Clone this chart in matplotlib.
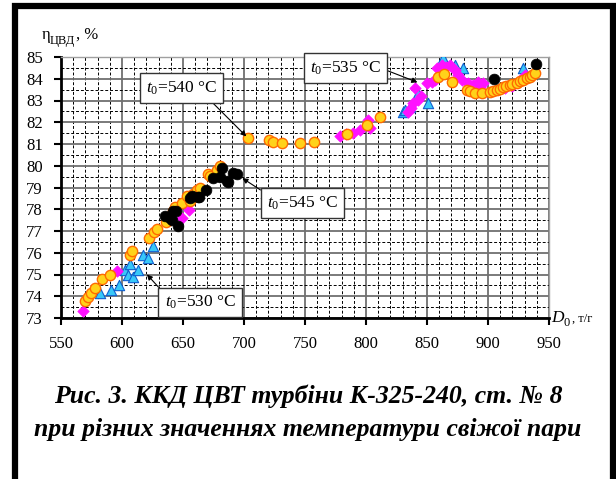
import matplotlib
matplotlib.use("Agg")
import matplotlib.pyplot as plt
from matplotlib.patches import Rectangle
from matplotlib.ticker import MultipleLocator

plt.rcParams['font.family'] = ['Liberation Serif', 'DejaVu Serif']
plt.rcParams['mathtext.fontset'] = 'custom'
plt.rcParams['mathtext.rm'] = 'Liberation Serif'
plt.rcParams['mathtext.it'] = 'Liberation Serif:italic'

# t0 = 540 °C (жовті кружки)
d540 = [569.5, 572.0, 574.5, 577.9, 584.0, 590.2, 606.5, 608.0, 622.0, 626.3,
        628.4, 635.8, 642.0, 643.4, 648.9, 653.0, 656.0, 658.4, 661.7, 664.0,
        670.8, 672.1, 677.5, 680.3, 703.5, 720.8, 724.0, 731.1, 745.9, 757.4,
        784.2, 800.6, 811.5, 859.3, 864.2, 870.2, 882.5, 885.0, 889.3, 895.4,
        901.6, 904.0, 907.0, 910.0, 912.5, 915.0, 918.0, 920.0, 923.5, 926.0,
        929.0, 932.0, 934.4, 936.0, 938.5]
n540 = [73.78, 73.98, 74.13, 74.36, 74.78, 75.0, 75.9, 76.1, 76.7, 76.97,
        77.1, 77.4, 77.9, 78.1, 78.3, 78.6, 78.4, 78.7, 78.9, 78.96,
        79.6, 79.55, 79.8, 80.0, 81.26, 81.2, 81.1, 81.03, 81.06, 81.1,
        81.46, 81.87, 82.26, 84.1, 84.22, 83.87, 83.48, 83.45, 83.36, 83.34,
        83.4, 83.44, 83.48, 83.54, 83.6, 83.65, 83.7, 83.76, 83.82, 83.88,
        83.94, 84.02, 84.1, 84.16, 84.25]

# t0 = 545 °C (чорні кружки)
d545 = [635.2, 639.3, 640.7, 642.0, 644.3, 646.2, 655.7, 657.1, 662.5, 663.4,
        668.5, 674.9, 680.3, 681.7, 685.8, 687.1, 691.2, 693.9, 904.8, 939.3]
n545 = [77.7, 77.6, 77.5, 77.9, 77.9, 77.25, 78.5, 78.6, 78.58, 78.55,
        78.9, 79.42, 79.5, 79.88, 79.3, 79.27, 79.66, 79.6, 84.0, 84.68]

# t0 = 535 °C (рожеві ромби)
d535 = [568.3, 595.6, 648.9, 655.2, 778.7, 784.0, 789.6, 795.1, 801.9, 803.3,
        834.7, 836.5, 838.8, 840.2, 842.9, 845.0, 849.7, 853.9, 856.6, 858.0,
        862.0, 865.5, 868.9, 873.0, 875.7, 878.4, 883.9, 888.0, 892.1, 893.4,
        896.2, 913.9, 919.5, 925.0, 930.3]
n535 = [73.3, 75.17, 77.6, 77.97, 81.36, 81.45, 81.5, 81.64, 82.1, 81.72,
        82.49, 82.65, 82.87, 83.56, 83.02, 83.2, 83.79, 83.87, 83.94, 84.48,
        84.63, 84.55, 84.63, 84.4, 84.17, 83.94, 83.79, 83.7, 83.87, 83.6,
        83.79, 83.56, 83.65, 83.9, 84.17]

# t0 = 530 °C (блакитні трикутники)
d530 = [582.0, 590.7, 597.8, 602.5, 605.2, 606.6, 609.3, 613.4, 617.5, 621.6,
        625.1, 830.6, 832.0, 836.0, 842.9, 851.1, 863.4, 873.0, 879.8, 929.0]
n530 = [74.13, 74.3, 74.5, 75.2, 74.97, 75.5, 74.9, 75.2, 75.9, 75.75,
        76.3, 82.49, 82.56, 82.7, 83.33, 82.87, 84.94, 84.63, 84.48, 84.48]

W, H = 616, 479
fig = plt.figure(figsize=(W / 100, H / 100), dpi=100)
ax = fig.add_axes([61 / W, 1 - 318 / H, 488 / W, 261 / H])

def px(x, y):
    return x / W, 1 - y / H

ax.scatter(d530, n530, marker='^', s=55, c='#38c8f8', edgecolors='#1060d0', linewidths=0.8, zorder=3)
ax.scatter(d535, n535, marker='D', s=34, c='#ff10ff', edgecolors='#ff10ff', linewidths=0.5, zorder=4)
ax.scatter(d540, n540, marker='o', s=55, c='#ffd21a', edgecolors='#ff6a00', linewidths=1.0, zorder=5)
ax.scatter(d545, n545, marker='o', s=60, c='black', edgecolors='black', linewidths=0.5, zorder=6)

ax.set_xlim(550, 950)
ax.set_ylim(73, 85)
ax.xaxis.set_major_locator(MultipleLocator(50))
ax.xaxis.set_minor_locator(MultipleLocator(10))
ax.yaxis.set_major_locator(MultipleLocator(1))
ax.yaxis.set_minor_locator(MultipleLocator(0.5))
ax.grid(which='major', color='#707070', lw=1.3, ls='-', zorder=0)
ax.grid(which='minor', color='black', lw=0.7, ls=(0, (3, 2)), zorder=0)
ax.tick_params(which='major', direction='out', length=5, width=1.5, labelsize=12, pad=8)
ax.tick_params(which='minor', length=0)
for s in ['left', 'bottom']:
    ax.spines[s].set_linewidth(2)
    ax.spines[s].set_color('black')
for s in ['top', 'right']:
    ax.spines[s].set_linewidth(1)
    ax.spines[s].set_color('#a0a0a0')

# підписи осей
fig.text(*px(42, 39), 'η', fontsize=12)
fig.text(*px(50, 44), 'ЦВД', fontsize=9)
fig.text(*px(76, 39), ', %', fontsize=12)
fig.text(*px(551, 322), 'D', fontsize=12.5, style='italic')
fig.text(*px(564, 326), '0', fontsize=9)
fig.text(*px(572, 322), ', т/г', fontsize=9)

box = dict(boxstyle='square,pad=0.35', fc='white', ec='#333333', lw=1)
arr = dict(arrowstyle='-|>', color='black', lw=0.8, mutation_scale=8, shrinkA=0, shrinkB=2)
notes = [('540', (703.5, 81.26), (649, 83.57), (0.85, 0)),
         ('535', (844.3, 83.79), (783, 84.49), (1, 0.5)),
         ('545', (696.7, 79.5), (748, 78.29), (0, 1)),
         ('530', (618.9, 75.1), (664, 73.71), (0, 1))]
for t, xy, xyt, rp in notes:
    a = dict(arr, relpos=rp)
    ax.annotate('$t_0$=' + t + ' °C', xy=xy, xytext=xyt, ha='center', va='center',
                fontsize=12.5, bbox=box, arrowprops=a, zorder=8)

fig.text(0.5, 1 - 403 / H, 'Рис. 3. ККД ЦВТ турбіни К-325-240, ст. № 8',
         ha='center', va='baseline', fontsize=18.5, weight='bold', style='italic')
fig.text(0.5, 1 - 436 / H, 'при різних значеннях температури свіжої пари',
         ha='center', va='baseline', fontsize=18.5, weight='bold', style='italic')

# рамка рисунка
fig.add_artist(Rectangle((14.5 / W, -0.05), (613 - 14.5) / W, 1.05 - 6 / H,
                         transform=fig.transFigure, fill=False, ec='black', lw=4.5, clip_on=False))

fig.savefig('out.png', dpi=100)
